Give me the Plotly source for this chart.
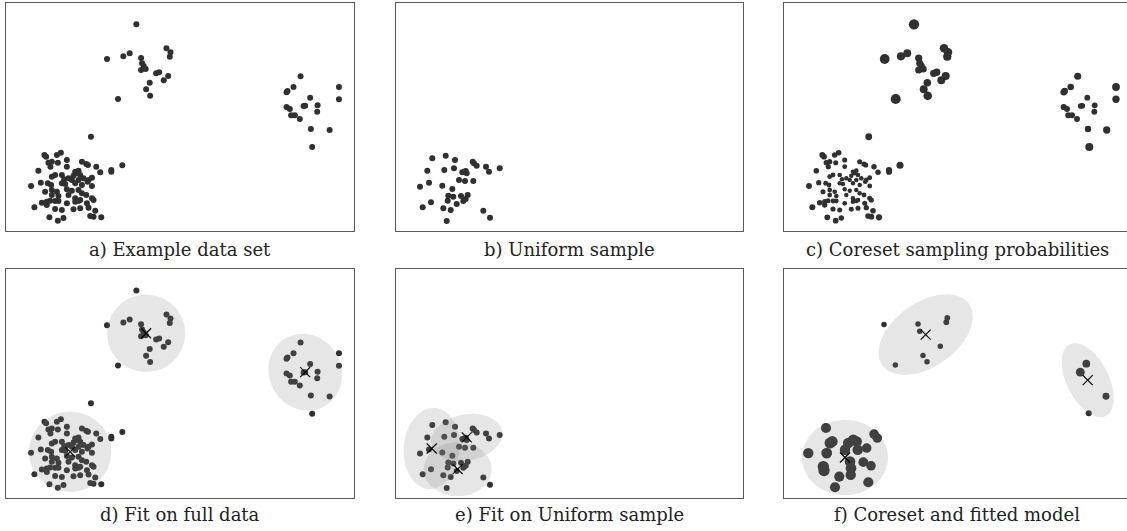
import numpy as np
import plotly.graph_objects as go

# ---------------- data ----------------
dense_x = [38.3, 40, 50.7, 54.7, 42.3, 45.7, 51.7, 60.7, 32.3, 44.3, 60.7, 75.7, 80, 81.7, 90, 94, 105, 105, 116,
           69, 72.3, 70.7, 67.3, 74, 55.7, 45.7, 49, 58, 62.3, 65.7, 72.3, 77.3, 82.3, 85.7, 81.3,
           25, 34.7, 41.7, 45, 55.7, 59, 69, 75.7, 85.7, 39, 45.7, 50.7, 60.7, 65.7, 72.3, 75.7, 80,
           45.7, 52.3, 62.3, 69, 74, 85.7, 87.3, 35.7, 40.7, 44, 49, 52.3, 60.7, 69, 72.3, 80.7,
           28.3, 40.7, 49, 55.7, 67.3, 74, 82.3, 89, 43.3, 51.7, 57.3, 84, 87.3, 95, 84.7]
dense_y = [76, 74.3, 76, 78.3, 68.3, 69.3, 68.3, 71, 60.3, 64.3, 64.3, 69.3, 67, 66, 64.3, 58.7, 61, 59.3, 65.7,
           59.3, 60.3, 57.7, 55.3, 56, 56, 54.3, 56, 51.7, 52.7, 51, 51, 52.7, 51, 53.3, 49.3,
           45, 48.3, 47.7, 46, 47.7, 47, 47.7, 46, 45, 39.3, 41, 39.3, 41.7, 40.3, 41, 37.7, 36,
           36, 35, 36, 32.7, 31, 32.7, 31, 28.3, 29.3, 30.3, 30, 30, 27.7, 29.3, 30, 27.7,
           23.7, 26, 22, 21, 21.7, 22.7, 23.3, 20.3, 13.7, 10.3, 13, 15, 14.3, 13.7, 94.3]
top_x = [130, 160, 164, 163.3, 100.7, 117, 123.3, 134.7, 135.7, 137.3, 134.7, 139.3, 149.7, 152.7, 161.7,
         157.3, 143.3, 139.7, 143.7, 111.7]
top_y = [206.7, 182.7, 178.7, 174.3, 172, 174.7, 177.7, 173, 167.7, 165, 161, 162, 157.7, 158.7, 155,
         150.7, 148.3, 141.7, 135.3, 132]
right_x = [293.7, 286.7, 280.7, 279.7, 332, 332, 303.3, 298.3, 296.7, 310.7, 310.3, 279.7, 283, 284.3, 288,
           293, 304, 322.7, 305.3]
right_y = [154.7, 144, 140, 138.7, 144, 131.7, 133.3, 125.3, 125, 125.7, 119.3, 124, 122, 115.7, 115.7,
           112, 102, 101, 84]

uniform_x = [36.3, 49.7, 59, 76.7, 78, 80.7, 90, 93, 103.7, 31.3, 48.3, 58, 66.3, 69.7, 70.7, 68.3, 24, 33,
             46.3, 63, 69, 77.3, 56.3, 52.3, 57.3, 65, 71.7, 51.7, 60.7, 67.3, 69.7, 26.7, 35, 47.3, 54.7,
             87.3, 94, 50.7]
uniform_y = [72.7, 75.3, 71, 69.3, 67.7, 65.3, 64.3, 59.3, 62.7, 60.3, 61, 62.7, 58.7, 60, 57.7, 59.3, 44.3,
             48.3, 45.3, 51, 50, 50, 42, 35.3, 34.3, 35, 36, 30.3, 27, 30, 32, 23.7, 28.7, 22.7, 21, 20.3,
             13.3, 10]

coreset_x = [42, 46, 48.3, 24.3, 42.7, 39.3, 40, 61, 64.3, 69.3, 72.7, 73.7, 82.7, 90, 93.3, 66, 67, 66.7,
             79.3, 87, 55.3, 51, 84.3,
             100, 134, 135.7, 163.3, 162.3, 156.3, 139, 143, 111.3,
             302.3, 296.3, 322, 304.7]
coreset_y = [69.7, 54.7, 56.3, 44.7, 44.7, 31.3, 27.3, 48, 54.7, 58, 56.3, 48, 49.7, 63.7, 59.7, 36.3, 29.7,
             23, 35.7, 32, 21.3, 10.7, 15.7,
             172.7, 173.3, 166, 179.3, 175, 151, 142, 135.7, 132.3,
             133.7, 125.3, 101.3, 84.3]
coreset_w = [3.4, 4.0, 3.8, 3.6, 3.8, 4.2, 4.2, 3.6, 3.8, 3.8, 3.6, 3.6, 3.0, 3.0, 3.0, 3.8, 3.8, 3.6,
             3.2, 3.0, 3.4, 3.4, 3.4,
             1.0, 1.0, 1.0, 1.1, 1.1, 1.0, 1.0, 1.0, 1.0,
             2.0, 2.6, 1.6, 1.2]

# fitted Gaussian components: centre x, centre y, semi-axis a, semi-axis b, angle (deg)
fit_full_cx = [64, 139.7, 298.3]
fit_full_cy = [46, 164, 125.3]
fit_full_a = [41, 39, 39]
fit_full_b = [40, 38.5, 36]
fit_full_ang = [0, 0, -60]

fit_unif_cx = [35.7, 70.7, 61.7]
fit_unif_cy = [49.3, 60.3, 28.7]
fit_unif_a = [40.5, 36, 34]
fit_unif_b = [28, 23, 27]
fit_unif_ang = [85, 10, 0]

fit_core_cx = [61, 141.7, 303.7]
fit_core_cy = [40.3, 162.7, 117.3]
fit_core_a = [43, 53, 40]
fit_core_b = [37.5, 32, 21]
fit_core_ang = [0, 35, -63]

captions = ["a) Example data set", "b) Uniform sample", "c) Coreset sampling probabilities",
            "d) Fit on full data", "e) Fit on Uniform sample", "f) Coreset and fitted model"]

# ---------------- figure ----------------
W, H = 1127, 531
PT = "#303030"
FILL = "rgba(128,128,128,0.2)"

# panel pixel boxes: left, right, top, bottom
boxes = [(6, 354, 3, 231), (396, 743, 3, 231), (784, 1127, 3, 231),
         (6, 354, 269, 498), (396, 743, 269, 498), (784, 1127, 269, 498)]
xranges = [[0, 347], [0, 347], [0, 343], [0, 347], [0, 347], [0, 343]]

fig = go.Figure()


def ax(i):
    return ("x" if i == 0 else f"x{i+1}"), ("y" if i == 0 else f"y{i+1}")


def pts(i, x, y, size):
    xa, ya = ax(i)
    fig.add_trace(go.Scatter(x=x, y=y, mode="markers", xaxis=xa, yaxis=ya, showlegend=False,
                             hoverinfo="skip",
                             marker=dict(color=PT, size=size, opacity=1, line=dict(width=0))))


def ellipses(i, cx, cy, a, b, ang):
    xa, ya = ax(i)
    t = np.linspace(0, 2 * np.pi, 140)
    for k in range(len(cx)):
        th = np.deg2rad(ang[k])
        ex = cx[k] + a[k] * np.cos(t) * np.cos(th) - b[k] * np.sin(t) * np.sin(th)
        ey = cy[k] + a[k] * np.cos(t) * np.sin(th) + b[k] * np.sin(t) * np.cos(th)
        fig.add_trace(go.Scatter(x=ex, y=ey, mode="lines", fill="toself", fillcolor=FILL,
                                 line=dict(width=0), xaxis=xa, yaxis=ya, showlegend=False,
                                 hoverinfo="skip"))
    fig.add_trace(go.Scatter(x=cx, y=cy, mode="markers", xaxis=xa, yaxis=ya, showlegend=False,
                             hoverinfo="skip",
                             marker=dict(symbol="x-thin", size=10, color="black", opacity=1,
                                         line=dict(width=1.2, color="black"))))


all_x = dense_x + top_x + right_x
all_y = dense_y + top_y + right_y

# a) full data
pts(0, all_x, all_y, 6)
# b) uniform sample
pts(1, uniform_x, uniform_y, 6)

# c) sampling probabilities (sensitivity-style: cluster share + squared distance to centre)
cluster_scale = [4.4, 7.0, 5.6]
sizes = []
for k, (cx_, cy_) in enumerate([(dense_x, dense_y), (top_x, top_y), (right_x, right_y)]):
    cxa, cya = np.array(cx_), np.array(cy_)
    d2 = (cxa - cxa.mean()) ** 2 + (cya - cya.mean()) ** 2
    sizes += list(cluster_scale[k] * np.sqrt(1 + 0.35 * d2 / d2.mean()))
pts(2, all_x, all_y, sizes)

# d) fit on full data
pts(3, all_x, all_y, 6)
ellipses(3, fit_full_cx, fit_full_cy, fit_full_a, fit_full_b, fit_full_ang)

# e) fit on uniform sample
pts(4, uniform_x, uniform_y, 6)
ellipses(4, fit_unif_cx, fit_unif_cy, fit_unif_a, fit_unif_b, fit_unif_ang)

# f) coreset + fitted model
pts(5, coreset_x, coreset_y, list(5.5 * np.sqrt(np.array(coreset_w))))
ellipses(5, fit_core_cx, fit_core_cy, fit_core_a, fit_core_b, fit_core_ang)

layout = dict(width=W, height=H, margin=dict(l=0, r=0, t=0, b=0), autosize=False,
              paper_bgcolor="white", plot_bgcolor="white", showlegend=False)
annotations = []
for i, (l, r, t, b) in enumerate(boxes):
    xn = "xaxis" if i == 0 else f"xaxis{i+1}"
    yn = "yaxis" if i == 0 else f"yaxis{i+1}"
    common = dict(showgrid=False, zeroline=False, showticklabels=False, ticks="",
                  showline=True, mirror=True, linecolor="#5a5a5a", linewidth=1, fixedrange=True)
    layout[xn] = dict(domain=[l / W, r / W], range=xranges[i], anchor=ax(i)[1], **common)
    layout[yn] = dict(domain=[1 - b / H, 1 - t / H], range=[0, 228], anchor=ax(i)[0], **common)
    cy = 249 if i < 3 else 514
    annotations.append(dict(text=captions[i], x=(l + r) / 2 / W if i % 3 != 2 else 957 / W,
                            y=1 - cy / H, xref="paper", yref="paper", showarrow=False,
                            xanchor="center", yanchor="middle",
                            font=dict(family="DejaVu Serif", size=18, color="#222222")))
layout["annotations"] = annotations
fig.update_layout(**layout)

fig.write_html("out.html", config={"displayModeBar": False},
               post_script="document.body.style.margin='0';document.body.style.overflow='hidden';")
